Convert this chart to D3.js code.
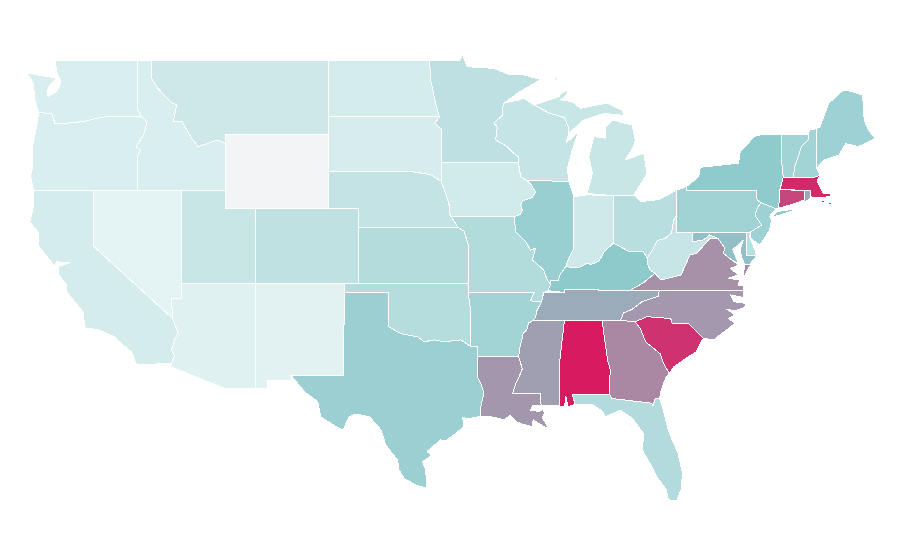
<!DOCTYPE html>
<html>
<head>
<meta charset="utf-8">
<script src="https://d3js.org/d3.v7.min.js"></script>
<style>
  html, body { margin: 0; background: #fff; }
</style>
</head>
<body>
<div id="map"></div>
<script>
// shared borders, lon/lat
const stCroixMiss = [[-92.2,46.68],[-92.3,46.4],[-92.3,46.04],[-92.87,45.6],[-92.65,45.4],[-92.75,44.7],[-91.96,44.34],[-91.6,44.03],[-91.2,43.8],[-91.22,43.5]];
const upperMiss = [[-91.22,43.5],[-91.06,42.73],[-90.6,42.5]];
const illIowaMiss = [[-90.6,42.5],[-90.35,42.3],[-90.05,41.9],[-90.3,41.6],[-90.95,41.42],[-91.05,41.2],[-90.95,40.9],[-91.1,40.7],[-91.5,40.57]];
const illMoMiss = [[-91.5,40.57],[-91.4,39.77],[-90.7,39.23],[-90.4,38.78],[-90.05,38.88],[-90.27,38.25],[-89.9,38.0],[-89.5,37.7],[-89.26,37.17],[-89.03,36.95]];
const moKyTn = [[-89.03,36.95],[-89.2,36.6],[-89.5,36.5],[-89.65,36.0]];
const arTnMiss = [[-89.65,36.0],[-89.95,35.55],[-90.05,35.2],[-90.2,35.0]];
const arMsMiss = [[-90.2,35.0],[-90.55,34.85],[-90.6,34.55],[-90.9,34.3],[-90.98,33.95],[-91.1,33.6],[-91.2,33.05]];
const laMsMiss = [[-91.2,33.05],[-90.95,32.4],[-91.15,32.0],[-91.4,31.6],[-91.6,31.08]];
const ohioIlKy = [[-89.03,36.95],[-89.03,37.17],[-88.5,37.17],[-88.4,37.45],[-88.0,37.9]];
const ohioInKy = [[-88.0,37.9],[-87.6,37.85],[-87.1,37.85],[-86.55,38.08],[-86.3,38.0],[-85.75,38.2],[-85.4,38.7],[-84.77,39.16]];
const ohioOhKy = [[-84.77,39.16],[-84.3,38.95],[-83.7,38.7],[-82.75,38.7],[-82.5,38.35]];
const ohioOhWv = [[-82.5,38.35],[-82.2,38.7],[-81.8,39.3],[-81.3,39.4],[-80.85,39.7],[-80.7,40.4],[-80.5,40.64]];
const wabash = [[-87.5,39.35],[-87.5,38.8],[-87.85,38.25],[-88.0,37.9]];
const bigSandy = [[-82.5,38.35],[-82.5,38.1],[-82.3,37.7],[-81.97,37.54]];
const kyVa = [[-81.97,37.54],[-82.7,37.05],[-83.67,36.6]];
const vaWv = [[-81.97,37.54],[-81.55,37.17],[-80.2,37.44],[-79.6,38.52],[-79.15,38.6],[-78.25,39.4],[-77.7,39.41]];
const mdWv = [[-77.7,39.41],[-78.27,39.6],[-78.7,39.32],[-79.45,39.23]];
const tnNc = [[-81.68,36.59],[-81.75,36.3],[-82.85,36.0],[-83.5,35.6],[-84.1,35.4],[-84.3,35.0]];
const ncSc = [[-83.3,34.93],[-82.5,35.2],[-80.9,35.1],[-80.8,34.84],[-79.7,34.84],[-78.7,34.04]];
const savannah = [[-83.3,34.93],[-82.95,34.55],[-82.6,33.85],[-81.6,33.2],[-81.4,32.7],[-81.0,32.15]];
const alGa = [[-85.55,35],[-85.18,32.87],[-84.99,32.33],[-85.05,31.55],[-85.05,31.03]];
const gaFl = [[-85.05,31.03],[-84.87,30.8],[-82.2,30.55],[-82.1,30.4],[-81.95,30.8],[-81.65,30.8]];
const alFl = [[-85.05,31.03],[-87.57,31.0],[-87.37,30.5]];
const alMs = [[-88.1,35],[-88.4,32.9],[-88.45,30.4]];
const redRiver = [[-100,34.66],[-99.2,34.3],[-98.6,34.2],[-98.05,34.12],[-97.6,33.85],[-96.9,33.95],[-96.3,33.85],[-95.1,33.95],[-94.45,33.6]];
const arOk = [[-94.62,36.5],[-94.43,35.4],[-94.45,33.6]];
const sabine = [[-94,33.05],[-94,32.0],[-93.75,31.6],[-93.55,31.1],[-93.75,30.4],[-93.77,29.85]];
const missouriIa = [[-96.45,42.49],[-96.1,41.7],[-95.9,41.2],[-95.85,40.7]];
const missouriMo = [[-95.85,40.7],[-95.31,40.0],[-94.9,39.8],[-94.62,39.1]];
const redRiverN = [[-97.23,49.0],[-97.15,47.9],[-96.8,46.6],[-96.55,45.94]];
const mnSd = [[-96.55,45.94],[-96.85,45.6],[-96.45,45.3],[-96.45,43.5]];
const idMt = [[-116.05,49],[-116.05,48],[-115.6,47.45],[-114.7,46.7],[-114.35,46.6],[-114.58,45.68],[-114,45.7],[-113.35,44.8],[-112.9,44.35],[-111.55,44.7],[-111.05,44.5]];
const snake = [[-117.03,42],[-117.03,43.8],[-116.8,44.16],[-117.1,44.34],[-116.6,44.96],[-116.35,45.68],[-116.75,45.95]];
const columbia = [[-116.75,45.95],[-118.75,45.99],[-119.75,45.87],[-120.6,45.7],[-121.8,45.6],[-122.6,45.6],[-122.8,46.1],[-123.7,46.2]];
const colorado = [[-114.63,35.1],[-114.25,34.3],[-114.5,34.0],[-114.7,33.4],[-114.5,33.1],[-114.7,32.7]];
const delaware = [[-74.8,41.33],[-75.05,41.0],[-75.2,40.66],[-74.75,40.13],[-75.5,39.75]];
const vtNh = [[-71.6,45.01],[-71.6,44.7],[-72.04,44.35],[-72.5,43.27],[-72.6,42.68]];
const nyVtMaCt = [[-73.4,45.01],[-73.4,43.6],[-73.28,42.7],[-73.5,42.05]];
const flat = (...parts) => parts.flat();
const rev = a => a.slice().reverse();

const stateNames = ["Washington","Oregon","California","Nevada","Idaho","Montana","Wyoming","Utah","Arizona","Colorado","New Mexico","North Dakota","South Dakota","Nebraska","Kansas","Oklahoma","Texas","Minnesota","Iowa","Missouri","Arkansas","Louisiana","Wisconsin","Illinois","Michigan","Indiana","Ohio","Kentucky","Tennessee","Mississippi","Alabama","Georgia","Florida","South Carolina","North Carolina","Virginia","West Virginia","Maryland","Delaware","Pennsylvania","New Jersey","New York","Connecticut","Rhode Island","Massachusetts","Vermont","New Hampshire","Maine"];
const stateValues = [7.4,7.4,9.7,1.1,7.4,13.6,null,16.5,4,22,2.3,9.7,9,20,28.4,27,42.6,23,12,29.5,38.6,64.5,18.8,43,16.5,13,25.6,50,58.6,62,100,69,29,93,64,66,17.6,52.6,26,40,41,49.4,88,59,95.7,38.6,38.6,41];

// outlines of the states, one list of polygons each, every polygon a list of rings
const stateShapes = [
  [[flat([[-122.6,49],[-117.03,49],[-117.03,46.4]],columbia,[[-123.95,46.85],[-124.06,47.75],[-124.5,48.3],[-123.05,48.1],[-122.48,48.02],[-122.93,47.65],[-123.15,47.3],[-123.05,47.03],[-122.48,47.3],[-122.25,47.7],[-122.25,47.95],[-122.48,48.37]])]],
  [[flat(snake,columbia,[[-123.8,45.6],[-124.1,44.4],[-124.1,43.25],[-124.25,42.8],[-124.05,42]])]],
  [[flat([[-124.05,42],[-120,42],[-120,39]],colorado,[[-117.06,32.6],[-117.4,33.3],[-118.3,33.88],[-118.53,34.1],[-119.66,34.5],[-120.55,34.6],[-120.7,35.45],[-121.8,36.55],[-121.8,36.9],[-122.37,37.5],[-122.37,37.85],[-122.2,37.95],[-121.6,38.1],[-122.5,38.15],[-122.6,37.9],[-123.7,39],[-123.7,39.7],[-124.3,40.3],[-124.06,41.1]])]],
  [[[[-120,42],[-114.05,42],[-114.05,36.2],[-114.7,36.2],[-114.63,35.1],[-120,39]]]],
  [[flat([[-117.03,49]],idMt,[[-111.05,42]],snake,[[-117.03,46.4]])]],
  [[flat(idMt,[[-111.05,45],[-104.05,45],[-104.05,49]])]],
  [[[[-111.05,45],[-104.05,45],[-104.05,41],[-111.05,41]]]],
  [[[[-114.05,42],[-111.05,42],[-111.05,41],[-109.05,41],[-109.05,37],[-114.05,37]]]],
  [[flat([[-114.05,37],[-109.05,37],[-109.05,31.33],[-111.07,31.33],[-114.75,32.5]],rev(colorado),[[-114.7,36.2],[-114.05,36.2]])]],
  [[[[-109.05,41],[-102.05,41],[-102.05,37],[-109.05,37]]]],
  [[[[-109.05,37],[-103,37],[-103,36.5],[-103.06,32.05],[-106.62,32.05],[-106.53,31.78],[-108.2,31.78],[-108.2,31.33],[-109.05,31.33]]]],
  [[flat([[-104.05,49]],redRiverN,[[-104.05,45.94]])]],
  [[flat([[-104.05,45.94]],mnSd,[[-96.45,42.49],[-97.2,42.85],[-98.5,43.0],[-104.05,43.0]])]],
  [[flat([[-104.05,43],[-98.5,43],[-97.2,42.85]],missouriIa,[[-95.31,40.0],[-102.05,40],[-102.05,41],[-104.05,41]])]],
  [[flat([[-102.05,40]],missouriMo.slice(1),[[-94.62,37],[-102.05,37]])]],
  [[flat([[-103,37],[-94.62,37]],arOk,rev(redRiver),[[-100,36.5],[-103,36.5]])]],
  [[flat([[-103,36.5],[-100,36.5]],redRiver,[[-94,33.58]],sabine,[[-94.7,29.7],[-95,29.8],[-94.9,29.3],[-95.5,28.9],[-96.1,28.55],[-96.5,28.57],[-97.4,27.95],[-97.1,27.75],[-97.7,27.4],[-97.5,26.96],[-97.4,25.97],[-98.16,26.15],[-98.95,26.5],[-99.3,26.96],[-99.4,27.5],[-100.2,28.3],[-100.5,29.1],[-101.3,29.82],[-102.2,29.97],[-102.67,29.82],[-103.1,29.1],[-103.57,29.29],[-104.6,29.82],[-104.8,30.63],[-105.7,31.17],[-106.62,32.05],[-103.06,32.05]])]],
  [[flat([[-97.23,49.0],[-95.15,49.0],[-95,49.27],[-94.67,48.64],[-92.87,48.55],[-91.8,48.2],[-90.85,48.2],[-89.7,47.95],[-91.2,47.25]],stCroixMiss,rev(mnSd),rev(redRiverN))]],
  [[flat([[-96.45,43.5]],upperMiss,illIowaMiss,[[-91.73,40.61],[-95.77,40.58]],rev(missouriIa))]],
  [[flat([[-95.77,40.58],[-91.73,40.61]],illMoMiss,moKyTn,[[-90.4,36.05],[-90.15,36.5],[-94.62,36.5],[-94.62,39.1]],rev(missouriMo).slice(1))]],
  [[flat([[-94.62,36.5],[-90.15,36.5],[-90.4,36.05]],arTnMiss,arMsMiss,[[-94,33.05],[-94,33.58],[-94.45,33.6],[-94.43,35.4]])]],
  [[flat([[-94,33.05]],laMsMiss,[[-89.7,31.08],[-89.7,30.55],[-89.65,30.4],[-90.25,30.4],[-90.4,30.18],[-89.85,30.1],[-89.55,30.22],[-89.45,30.0],[-89.6,29.8],[-89.2,29.2],[-89.5,29.3],[-90.2,29.65],[-90.3,29.3],[-90.85,29.4],[-91.35,29.55],[-91.75,29.9],[-92.2,29.65],[-92.9,29.8]],rev(sabine))]],
  [[flat([[-92.2,46.68],[-91.2,46.85],[-90.85,46.95],[-90.16,46.58],[-89.1,46.14],[-88.1,45.9],[-87.8,45.35],[-87.8,45.06],[-88.0,44.53],[-87.14,45.15],[-87.57,44.16],[-87.75,43.6],[-87.9,43.2],[-87.8,42.49],[-90.6,42.5]],rev(upperMiss),rev(stCroixMiss))]],
  [[flat([[-90.6,42.5],[-87.8,42.49],[-87.46,41.65]],wabash,rev(ohioIlKy),rev(illMoMiss),rev(illIowaMiss))]],
  [[[[-90.16,46.58],[-88.47,47.03],[-88.36,47.2],[-87.8,47.39],[-88.0,47.1],[-88.36,46.85],[-87.57,46.76],[-87.0,46.4],[-86.1,46.55],[-85.2,46.67],[-84.19,46.3],[-84.08,46.04],[-83.5,45.95],[-84.3,46.04],[-85.44,46.13],[-86.8,45.77],[-87.8,45.06],[-87.8,45.35],[-88.1,45.9],[-89.1,46.14]]],
   [[[-84.8,45.77],[-83.5,45.5],[-83.3,44.7],[-83.42,44.34],[-83.97,43.63],[-82.73,43.98],[-82.5,42.9],[-83.2,42.0],[-83.4,41.74],[-84.8,41.7],[-86.56,41.83],[-86.2,42.9],[-86.45,43.8],[-86.1,44.88],[-85.3,44.8],[-85.3,45.4]]],
   [[[-88.9,47.95],[-88.5,48.1],[-88.65,47.9]]]],
  [[flat([[-87.46,41.65],[-86.56,41.75],[-84.8,41.7]],rev(ohioInKy),rev(wabash))]],
  [[flat([[-84.8,41.7],[-83.4,41.74],[-82.95,41.38],[-81.7,41.5],[-80.5,42.0]],rev(ohioOhWv),rev(ohioOhKy))]],
  [[flat(ohioIlKy,ohioInKy,ohioOhKy,bigSandy,kyVa,[[-88.07,36.67],[-88.07,36.5],[-89.2,36.6]])]],
  [[flat([[-89.65,36.0],[-89.5,36.5],[-88.07,36.5],[-88.07,36.67],[-83.67,36.6],[-81.68,36.59]],tnNc,[[-88.1,35],[-90.2,35]],rev(arTnMiss))]],
  [[flat([[-90.2,35]],alMs,[[-89.65,30.4],[-89.7,30.55],[-89.7,31.08],[-91.6,31.08]],rev(laMsMiss),rev(arMsMiss))]],
  [[flat(alMs,[[-88.1,30.35],[-88.0,30.9],[-87.85,30.35],[-87.37,30.5]],rev(alFl),rev(alGa))]],
  [[flat(alGa,gaFl,[[-81.55,31.26],[-81.2,31.97]],rev(savannah),[[-84.3,35.0]])]],
  [[flat(rev(alFl),gaFl.slice(1),[[-81.4,30.18],[-81,28.93],[-80.4,27.85],[-80.1,26.77],[-80.2,25.9],[-80.5,25.3],[-81.05,25.35],[-81.2,25.9],[-81.85,26.6],[-82.15,27.1],[-82.8,28],[-82.75,28.93],[-83.5,29.74],[-84.3,30.18],[-85.35,29.82],[-85.5,30.1],[-86.15,30.45]])]],
  [[flat(savannah,[[-80.7,32.5],[-79.8,33],[-79.2,33.3]],rev(ncSc))]],
  [[flat([[-84.3,35.0]],rev(tnNc),[[-76,36.58],[-76,36.24],[-76.85,36.37],[-76.6,36],[-75.83,35.92],[-75.88,35.7],[-76.55,35.52],[-77.1,35.6],[-76.55,35.29],[-77,35.11],[-76.55,34.84],[-78,33.95]],rev(ncSc))]],
  [[flat([[-83.67,36.6]],rev(kyVa),vaWv,[[-77.23,38.88],[-77.33,38.6],[-76.85,38.3],[-76.3,37.98],[-76.85,37.8],[-76.33,37.44],[-77,37.26],[-76.2,37.17],[-76.35,36.9],[-75.96,36.9],[-76,36.58],[-81.68,36.59]])],
   [[[-75.5,37.98],[-76,37.26],[-75.9,37.98]]]],
  [[flat(rev(ohioOhWv),bigSandy,vaWv.slice(1),mdWv.slice(1),[[-79.45,39.74],[-80.5,39.74]])]],
  [[flat([[-79.45,39.74],[-75.75,39.74],[-75.75,38.5],[-75.1,38.5],[-75.2,38.33],[-75.43,38.15],[-75.5,37.98],[-75.9,37.98],[-76.1,38.43],[-76.2,38.8],[-75.98,39.32],[-76.7,38.8],[-76.33,38.07],[-76.85,38.3],[-77.33,38.6],[-77.23,38.88]],mdWv)]],
  [[[[-75.75,39.74],[-75.5,39.75],[-75.55,39.45],[-75.2,38.8],[-75.1,38.5],[-75.75,38.5]]]],
  [[flat([[-79.82,42.2],[-80.5,42],[-80.5,39.74],[-75.75,39.74]],rev(delaware),[[-75.05,41.47],[-75.1,42],[-79.82,42]])]],
  [[flat(delaware,[[-75.5,39.45],[-75.3,39.3],[-74.86,39.05],[-74.2,39.86],[-74.07,40.4],[-74.2,40.6],[-73.95,40.85],[-73.75,41]])]],
  [[flat([[-79.82,42.2],[-79.82,42],[-75.1,42],[-75.05,41.47],[-74.8,41.33],[-73.75,41],[-73.62,41.03],[-73.55,41.38]],rev(nyVtMaCt),[[-74.7,45],[-75.2,44.9],[-76.2,44.08],[-76.3,43.45],[-78.9,43.23],[-79,42.73]])],
   [[[-73.96,40.6],[-73.7,40.62],[-72.1,41.03],[-72.6,40.98],[-73.7,40.85]]]],
  [[[[-73.5,42.05],[-71.86,41.96],[-71.86,41.47],[-72.83,41.2],[-73.62,41.03],[-73.55,41.38]]]],
  [[[[-71.83,41.97],[-71.43,41.97],[-71.43,41.56],[-71.83,41.38]]]],
  [[[[-73.5,42.05],[-73.28,42.7],[-72.6,42.68],[-71.25,42.67],[-70.8,42.8],[-71,42.5],[-70.8,42.2],[-70.6,41.85],[-70.05,41.82],[-70.05,41.66],[-70.6,41.62],[-71,41.58],[-71.43,41.65],[-71.43,41.97]]],
   [[[-70.3,41.33],[-69.97,41.31],[-70.1,41.2]]],[[[-70.8,41.42],[-70.45,41.47],[-70.55,41.32]]]],
  [[flat([[-73.4,45.01]],vtNh,[[-73.28,42.7],[-73.4,43.6]])]],
  [[flat(vtNh,[[-71.25,42.67],[-70.8,42.8],[-71,43.18],[-71.05,45.3],[-71.45,45.25]])]],
  [[[[-71.05,45.3],[-70.8,45.4],[-70.2,46.67],[-69.2,47.39],[-68.6,47.3],[-67.9,47.1],[-67.8,45.77],[-67.5,45.2],[-67.05,44.8],[-67.6,44.55],[-68.2,44.35],[-69.05,44.5],[-69.5,43.9],[-70.55,43.62],[-71,43.18]]]]
];

const width = 900, height = 560;
const noDataColor = "#f3f4f6";

const x = d3.scaleLinear().domain([-120, -67]).range([93.3, 876]);
const y = d3.scaleLinear().domain([49, 25]).range([60, 506.4]);
const color = d3.scaleLinear().domain([0, 50, 100]).range(["#e6f4f4", "#8ec9cc", "#d81b60"]);

const path = d3.geoPath(d3.geoTransform({
  point(lon, lat) { this.stream.point(x(lon), y(lat)); }
}));

// geoPath expects closed rings
const closeRing = ring => ring.concat([ring[0]]);

const features = stateNames.map((name, i) => ({
  type: "Feature",
  properties: { name, value: stateValues[i] },
  geometry: { type: "MultiPolygon", coordinates: stateShapes[i].map(poly => poly.map(closeRing)) }
}));

const svg = d3.select("#map").append("svg")
  .attr("width", width)
  .attr("height", height)
  .style("display", "block");

svg.append("g").selectAll("path")
  .data(features)
  .join("path")
  .attr("d", path)
  .attr("fill", d => d.properties.value === null ? noDataColor : color(d.properties.value))
  .attr("fill-rule", "evenodd")
  .attr("stroke", "#fff")
  .attr("stroke-width", 1)
  .attr("stroke-linejoin", "round")
  .attr("shape-rendering", "crispEdges");
</script>
</body>
</html>
